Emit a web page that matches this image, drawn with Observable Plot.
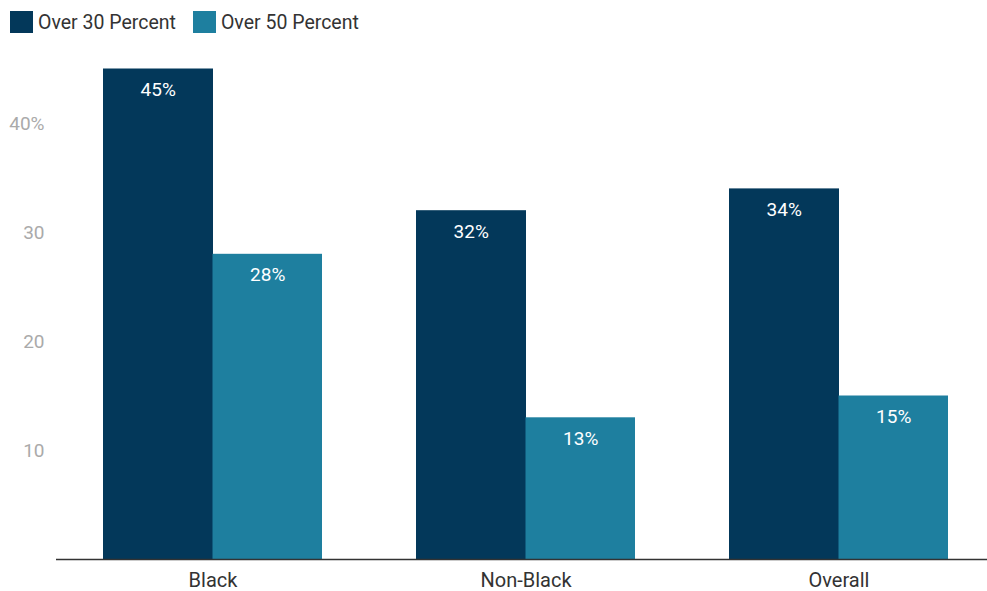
<!DOCTYPE html>
<html>
<head>
<meta charset="utf-8">
<script src="https://cdn.jsdelivr.net/npm/d3@7"></script>
<script src="https://cdn.jsdelivr.net/npm/@observablehq/plot@0.6"></script>
<style>
  body { margin: 0; background: #fff; font-family: Roboto, "Noto Sans", sans-serif; }
  #legend { height: 40px; display: flex; align-items: center; padding-left: 10px; font-size: 19.5px; color: #333; box-sizing: border-box; padding-top: 4px; }
  .item { display: flex; align-items: center; margin-right: 17px; }
  .sw { width: 23px; height: 22px; margin-right: 5px; box-sizing: border-box; }
  #chart svg { display: block; }
</style>
</head>
<body>
<div id="legend"></div>
<div id="chart"></div>
<script>
const groups = ["Black", "Non-Black", "Overall"];
const series = ["Over 30 Percent", "Over 50 Percent"];
const over30 = [45, 32, 34];
const over50 = [28, 13, 15];
const colors = ["#03385a", "#1e7f9f"];
const yTicks = [10, 20, 30, 40];

const data = [];
groups.forEach((g, i) => {
  data.push({group: g, series: series[0], value: over30[i]});
  data.push({group: g, series: series[1], value: over50[i]});
});

const legend = document.getElementById("legend");
series.forEach((s, i) => {
  const it = document.createElement("div");
  it.className = "item";
  const sw = document.createElement("div");
  sw.className = "sw";
  sw.style.background = colors[i];
  it.appendChild(sw);
  const t = document.createElement("span");
  t.textContent = s;
  it.appendChild(t);
  legend.appendChild(it);
});

const half = 109.5;
const d0 = data.filter(d => d.series === series[0]);
const d1 = data.filter(d => d.series === series[1]);

const chart = Plot.plot({
  width: 987,
  height: 551,
  marginLeft: 56,
  marginRight: 0,
  marginTop: 28.5,
  marginBottom: 32,
  style: { fontFamily: "Roboto, sans-serif", fontSize: "19px", background: "#fff" },
  x: { domain: groups, range: [56, 995], paddingInner: 0.3, paddingOuter: 0.15, label: null },
  y: { domain: [0, 45], label: null },
  color: { domain: series, range: colors },
  marks: [
    Plot.barY(d0, { x: "group", y: "value", fill: "series", insetRight: half - 0.5 }),
    Plot.barY(d1, { x: "group", y: "value", fill: "series", insetLeft: half }),
    Plot.text(d0, { x: "group", y: "value", text: d => d.value + "%", dx: -half / 2, dy: 21, fill: "white", fontSize: 19 }),
    Plot.text(d1, { x: "group", y: "value", text: d => d.value + "%", dx: half / 2, dy: 21, fill: "white", fontSize: 19 }),
    Plot.ruleY([0], { stroke: "#333", strokeWidth: 1.5 }),
    Plot.axisY({ ticks: yTicks, tickSize: 0, tickPadding: 12, tickFormat: d => d === 40 ? "40%" : String(d), fill: "#aaa", fontSize: 19 }),
    Plot.axisX({ tickSize: 0, tickPadding: 13, fill: "#333", fontSize: 20 })
  ]
});
document.getElementById("chart").appendChild(chart);
</script>
</body>
</html>
